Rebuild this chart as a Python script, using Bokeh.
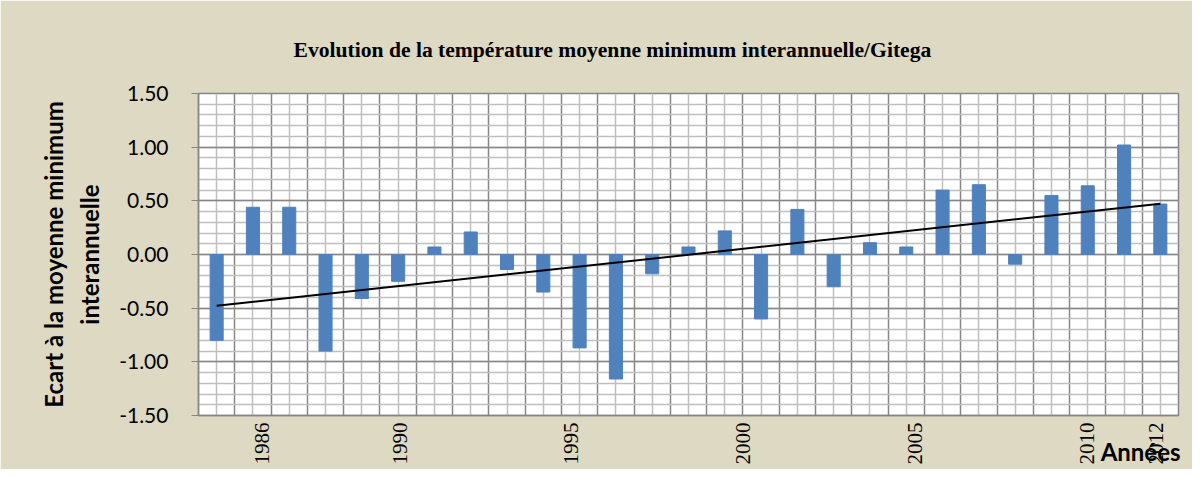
import numpy as np
from math import pi
from bokeh.plotting import figure
from bokeh.models import (Range1d, LinearAxis, FixedTicker, SingleIntervalTicker,
                          NumeralTickFormatter)
from bokeh.embed import file_html
from bokeh.resources import INLINE

# ---- data ----
years = list(range(1986, 2013))
values = [-0.80, 0.44, 0.44, -0.90, -0.41, -0.25, 0.07, 0.21, -0.14, -0.35,
          -0.87, -1.16, -0.18, 0.07, 0.22, -0.60, 0.42, -0.30, 0.11, 0.07,
          0.60, 0.65, -0.09, 0.55, 0.64, 1.02, 0.47]
tick_years = [1986, 1990, 1995, 2000, 2005, 2010, 2012]
title_text = "Evolution de la température moyenne minimum interannuelle/Gitega"
ylabel_text = "Ecart à la moyenne minimum\ninterannuelle"
xlabel_text = "Années"

# ---- styles ----
BG = "#DDD9C3"
BAR = "#4F81BD"
MAJOR = "#868686"
MINOR = "#BFBFBF"

p = figure(width=1192, height=469, output_backend="svg", toolbar_location=None,
           x_range=Range1d(years[0] - 0.5, years[-1] + 0.5),
           y_range=Range1d(-1.5, 1.5),
           min_border_left=198, min_border_right=14,
           min_border_top=93, min_border_bottom=54,
           border_fill_color=BG, background_fill_color="white",
           outline_line_color=MAJOR, outline_line_width=1.5)

# title
p.title.text = title_text
p.title.align = "left"
p.title.offset = 95
p.title.standoff = 64
p.title.text_font = "Liberation Serif"
p.title.text_font_size = "21.6px"
p.title.text_font_style = "bold"
p.title.text_color = "black"

# grids
bounds = [y - 0.5 for y in years] + [years[-1] + 0.5]
p.xgrid.ticker = FixedTicker(ticks=bounds, minor_ticks=years)
p.xgrid.grid_line_color = MAJOR
p.xgrid.grid_line_width = 1.5
p.xgrid.minor_grid_line_color = MINOR
p.xgrid.minor_grid_line_width = 1.5

yticker = SingleIntervalTicker(interval=0.5, num_minor_ticks=5)
p.yaxis.ticker = yticker
p.ygrid.ticker = yticker
p.ygrid.grid_line_color = MAJOR
p.ygrid.grid_line_width = 1.5
p.ygrid.minor_grid_line_color = MINOR
p.ygrid.minor_grid_line_width = 1.5

# bars
p.vbar(x=years, top=values, bottom=0, width=0.36, fill_color=BAR,
       line_color=BAR, line_width=1)

# linear trend
slope, intercept = np.polyfit(years, values, 1)
tx = [years[0], years[-1]]
ty = [slope * x + intercept for x in tx]
p.line(tx, ty, line_color="black", line_width=2)

# y axis
ya = p.yaxis[0]
ya.formatter = NumeralTickFormatter(format="0.00")
ya.axis_line_color = MAJOR
ya.axis_line_width = 1.5
ya.major_tick_line_color = MAJOR
ya.major_tick_out = 7
ya.major_tick_in = 0
ya.minor_tick_line_color = None
ya.major_label_standoff = 23
ya.major_label_text_font = "Lato"
ya.major_label_text_font_size = "21px"
ya.major_label_text_color = "black"
ya.axis_label = ylabel_text
ya.axis_label_text_font = "Lato"
ya.axis_label_text_font_style = "bold"
ya.axis_label_text_font_size = "24px"
ya.axis_label_text_color = "black"
ya.axis_label_standoff = 12
ya.axis_label_text_line_height = 1.25

# x axis: hide primary, use label axis
p.xaxis.visible = False
p.extra_x_ranges = {"lab": Range1d(1984.146, 2012.669)}
xa = LinearAxis(x_range_name="lab", ticker=FixedTicker(ticks=tick_years))
xa.major_label_orientation = pi / 2
xa.major_label_overrides = {y: str(y) for y in tick_years}
xa.axis_line_color = MAJOR
xa.axis_line_width = 1.5
xa.major_tick_line_color = None
xa.minor_tick_line_color = None
xa.major_label_standoff = 1
xa.major_label_text_font = "Liberation Serif"
xa.major_label_text_font_size = "21px"
xa.major_label_text_color = "black"
# axis title at the right end (padded so that it ends at the frame edge)
xa.axis_label = xlabel_text + "\u00a0" * 13
xa.axis_label_align = "end"
xa.axis_label_standoff = -31
xa.axis_label_text_font = "Lato"
xa.axis_label_text_font_style = "bold"
xa.axis_label_text_font_size = "24px"
xa.axis_label_text_color = "black"
p.add_layout(xa, "below")

open("out.html", "w").write(file_html(p, INLINE))
